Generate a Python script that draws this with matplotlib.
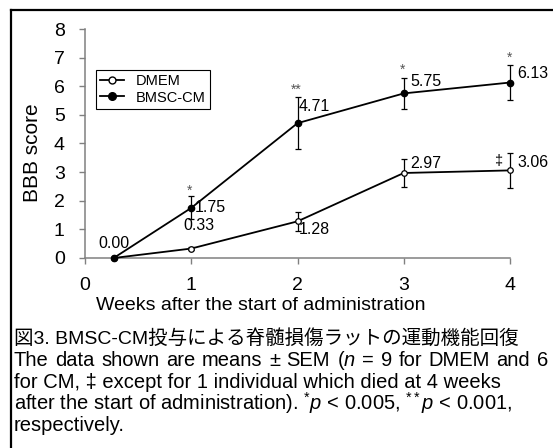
import matplotlib
matplotlib.use("Agg")
import matplotlib.pyplot as plt
from matplotlib.lines import Line2D

plt.rcParams['font.family'] = ['Liberation Sans', 'Noto Sans CJK JP', 'DejaVu Sans']
plt.rcParams['mathtext.fontset'] = 'custom'
plt.rcParams['mathtext.rm'] = 'Liberation Sans'
plt.rcParams['mathtext.it'] = 'Liberation Sans:italic'
plt.rcParams['mathtext.bf'] = 'Liberation Sans:bold'

# data
weeks = [0.27, 1, 2, 3, 4]
dmem = [0.00, 0.33, 1.28, 2.97, 3.06]
dmem_sem = [0.0, 0.05, 0.33, 0.5, 0.6]
cm = [0.00, 1.75, 4.71, 5.75, 6.13]
cm_sem = [0.0, 0.4, 0.9, 0.55, 0.6]

# value labels: (x, y, text, ha)
dmem_labels = [(0.27, 0.52, "0.00", "center"), (1.07, 1.12, "0.33", "center"),
               (2.01, 0.99, "1.28", "left"), (3.06, 3.30, "2.97", "left"),
               (4.07, 3.33, "3.06", "left")]
cm_labels = [(1.03, 1.75, "1.75", "left"), (2.01, 5.31, "4.71", "left"),
             (3.06, 6.17, "5.75", "left"), (4.07, 6.46, "6.13", "left")]
sig_marks = [(0.98, 2.35, "*"), (1.99, 5.87, "**"), (2.99, 6.59, "*"), (4.0, 7.0, "*")]
dagger = (3.89, 3.39, "\u2021")

fig = plt.figure(figsize=(5.53, 4.48), dpi=100)
W, H = 553, 448
ax = fig.add_axes([85 / W, 1 - 258 / H, 425 / W, 229 / H])

ax.errorbar(weeks, dmem, yerr=dmem_sem, color='black', lw=1.3, marker='o', ms=4,
            mfc='white', mec='black', mew=0.9, capsize=2, elinewidth=0.9,
            capthick=0.9, zorder=3, clip_on=False)
ax.errorbar(weeks, cm, yerr=cm_sem, color='black', lw=1.3, marker='o', ms=4.5,
            mfc='black', mec='black', capsize=2, elinewidth=0.9,
            capthick=0.9, zorder=3, clip_on=False)

for x, y, t, ha in dmem_labels + cm_labels:
    ax.text(x, y, t, ha=ha, va='center', fontsize=11.5)
for x, y, t in sig_marks:
    ax.text(x, y, t, ha='center', va='center', fontsize=10, color='#555555')
ax.text(dagger[0], dagger[1], dagger[2], ha='center', va='center', fontsize=10.5)

ax.set_xlim(0, 4)
ax.set_ylim(0, 8)
ax.set_xticks([0, 1, 2, 3, 4])
ax.set_yticks(range(9))
for s in ['top', 'right']:
    ax.spines[s].set_visible(False)
for s in ['left', 'bottom']:
    ax.spines[s].set_color('#808080')
    ax.spines[s].set_linewidth(1.1)
ax.tick_params(axis='both', labelsize=14, color='#808080', width=1.0)
ax.tick_params(axis='x', length=4, pad=10)
ax.tick_params(axis='y', length=4.5, pad=10)

ax.set_ylabel("BBB score", fontsize=15)
ax.yaxis.set_label_coords(-0.10, 0.458)
ax.set_xlabel("Weeks after the start of administration", fontsize=14, va='top')
ax.xaxis.set_label_coords(0.414, -0.172)

handles = [
    Line2D([], [], color='black', lw=1.3, marker='o', ms=5, mfc='white', mec='black'),
    Line2D([], [], color='black', lw=1.3, marker='o', ms=5.5, mfc='black', mec='black'),
]
leg = ax.legend(handles, ['DMEM', 'BMSC-CM'], loc='upper left',
                bbox_to_anchor=(0.026, 0.821), borderaxespad=0,
                fontsize=10.5, fancybox=False, framealpha=1, edgecolor='black',
                handlelength=1.6, borderpad=0.3, labelspacing=0.15)
leg.get_frame().set_linewidth(0.8)

# caption
cfs = 14.5
fig.text(14 / W, 1 - 344 / H, "図3. BMSC-CM投与による脊髄損傷ラットの運動機能回復",
         fontsize=14, va='baseline', ha='left')

# first line is justified to the full width
words = ["The", "data", "shown", "are", "means", "\u00b1", "SEM", r"($\mathit{n}$",
         "=", "9", "for", "DMEM", "and", "6"]
renderer = fig.canvas.get_renderer()
objs = [fig.text(0, 1 - 366 / H, w, fontsize=cfs, va='baseline') for w in words]
widths = [o.get_window_extent(renderer).width for o in objs]
gap = (548 - 14 - sum(widths)) / (len(words) - 1)
xpos = 14
for o, w in zip(objs, widths):
    o.set_x(xpos / W)
    xpos += w + gap

fig.text(14 / W, 1 - 388 / H, "for CM, \u2021 except for 1 individual which died at 4 weeks",
         fontsize=cfs, va='baseline')
fig.text(14 / W, 1 - 410 / H,
         r"after the start of administration). $^{*}\mathit{p}$ < 0.005, $^{**}\mathit{p}$ < 0.001,",
         fontsize=cfs, va='baseline')
fig.text(14 / W, 1 - 431 / H, "respectively.", fontsize=cfs, va='baseline')

# frame around the figure (top and left visible)
fig.add_artist(Line2D([11 / W, 1.0], [1 - 10.5 / H] * 2, color='black', lw=1.6,
                      transform=fig.transFigure))
fig.add_artist(Line2D([11 / W] * 2, [0.0, 1 - 10.5 / H], color='black', lw=1.6,
                      transform=fig.transFigure))

fig.savefig("out.png", dpi=100)
